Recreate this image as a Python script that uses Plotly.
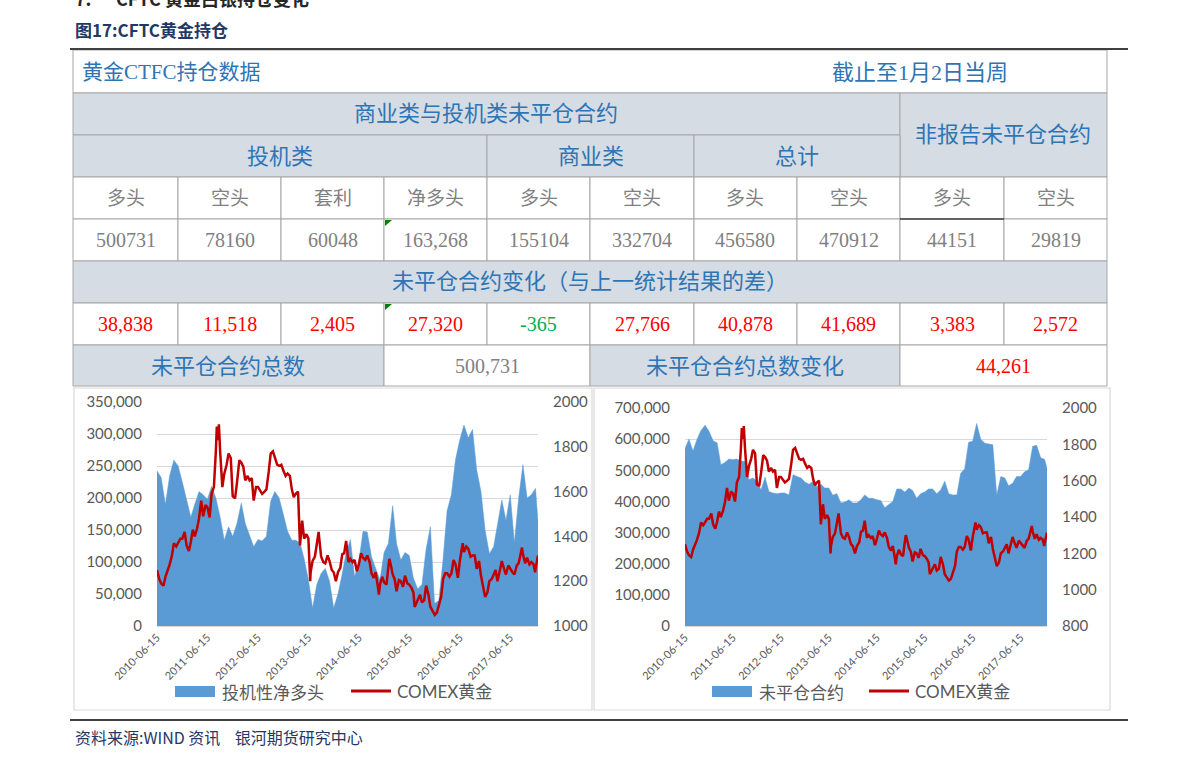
import plotly.graph_objects as go

W, H = 1191, 766

# ---- chart data (monthly readings, last point = 2018-01-02) ----
dates = [f"{2010 + (5 + i) // 12}-{(5 + i) % 12 + 1:02d}-15" for i in range(91)] + ["2018-01-02"]

net_long = [242000, 232000, 190000, 235000, 259000, 250000, 225000, 197000, 170000, 190000,
            210000, 205000, 198000, 218000, 200000, 170000, 134000, 155000, 140000, 160000,
            192000, 160000, 140000, 124000, 135000, 133000, 140000, 195000, 210000, 200000,
            175000, 148000, 134000, 134000, 130000, 105000, 72000, 28000, 65000, 82000,
            90000, 70000, 28000, 50000, 82000, 115000, 135000, 77000, 100000, 148000,
            147000, 108000, 90000, 72000, 115000, 129000, 188000, 129000, 103000, 115000,
            110000, 75000, 58000, 65000, 120000, 155000, 35000, 40000, 105000, 180000,
            205000, 260000, 291000, 314000, 294000, 307000, 244000, 210000, 150000, 113000,
            124000, 160000, 197000, 165000, 205000, 130000, 200000, 252000, 200000, 205000,
            215000, 163000]

open_interest = [570000, 600000, 562000, 600000, 628000, 645000, 625000, 595000, 588000, 518000,
                 525000, 536000, 534000, 536000, 530000, 528000, 470000, 475000, 465000, 437000,
                 478000, 432000, 427000, 425000, 427000, 427000, 421000, 486000, 480000, 475000,
                 462000, 455000, 464000, 448000, 455000, 443000, 443000, 420000, 425000, 395000,
                 398000, 405000, 395000, 395000, 405000, 421000, 410000, 410000, 405000, 403000,
                 380000, 389000, 400000, 440000, 440000, 430000, 443000, 435000, 410000, 425000,
                 430000, 440000, 440000, 425000, 437000, 465000, 425000, 421000, 421000, 490000,
                 505000, 590000, 593000, 650000, 600000, 587000, 585000, 582000, 420000, 480000,
                 475000, 450000, 458000, 480000, 480000, 495000, 502000, 577000, 580000, 540000,
                 535000, 505000]

# COMEX gold, read twice a month plus the visible turning points
gold_points = [
    ("2010-06-15", 1250), ("2010-07-01", 1210), ("2010-07-15", 1190), ("2010-08-01", 1180),
    ("2010-08-15", 1220), ("2010-09-01", 1250), ("2010-09-15", 1275), ("2010-10-01", 1315),
    ("2010-10-15", 1370), ("2010-11-01", 1355), ("2010-11-15", 1370), ("2010-12-01", 1390),
    ("2010-12-15", 1390), ("2011-01-01", 1420), ("2011-01-15", 1360), ("2011-02-01", 1335),
    ("2011-02-15", 1375), ("2011-03-01", 1430), ("2011-03-15", 1400), ("2011-04-01", 1435),
    ("2011-04-15", 1480), ("2011-05-01", 1560), ("2011-05-15", 1490), ("2011-06-01", 1540),
    ("2011-06-15", 1530), ("2011-07-01", 1485), ("2011-07-15", 1590), ("2011-08-01", 1620),
    ("2011-08-15", 1780), ("2011-08-22", 1890), ("2011-09-01", 1830), ("2011-09-06", 1900),
    ("2011-09-15", 1780), ("2011-09-26", 1620), ("2011-10-01", 1620), ("2011-10-15", 1680),
    ("2011-11-01", 1720), ("2011-11-15", 1770), ("2011-12-01", 1750), ("2011-12-15", 1580),
    ("2012-01-01", 1570), ("2012-01-15", 1640), ("2012-02-01", 1740), ("2012-02-15", 1730),
    ("2012-03-01", 1710), ("2012-03-15", 1650), ("2012-04-01", 1670), ("2012-04-15", 1650),
    ("2012-05-01", 1660), ("2012-05-15", 1560), ("2012-06-01", 1620), ("2012-06-15", 1620),
    ("2012-07-01", 1600), ("2012-07-15", 1590), ("2012-08-01", 1600), ("2012-08-15", 1610),
    ("2012-09-01", 1690), ("2012-09-15", 1770), ("2012-10-01", 1780), ("2012-10-15", 1750),
    ("2012-11-01", 1720), ("2012-11-15", 1715), ("2012-12-01", 1720), ("2012-12-15", 1695),
    ("2013-01-01", 1670), ("2013-01-15", 1680), ("2013-02-01", 1670), ("2013-02-15", 1610),
    ("2013-03-01", 1575), ("2013-03-15", 1590), ("2013-04-01", 1600), ("2013-04-15", 1360),
    ("2013-05-01", 1470), ("2013-05-15", 1390), ("2013-06-01", 1410), ("2013-06-15", 1390),
    ("2013-06-28", 1200), ("2013-07-01", 1240), ("2013-07-15", 1290), ("2013-08-01", 1310),
    ("2013-08-15", 1370), ("2013-08-28", 1420), ("2013-09-01", 1395), ("2013-09-15", 1310),
    ("2013-10-01", 1285), ("2013-10-15", 1280), ("2013-11-01", 1315), ("2013-11-15", 1290),
    ("2013-12-01", 1250), ("2013-12-15", 1240), ("2013-12-31", 1200), ("2014-01-15", 1240),
    ("2014-02-01", 1260), ("2014-02-15", 1320), ("2014-03-01", 1325), ("2014-03-15", 1380),
    ("2014-04-01", 1285), ("2014-04-15", 1300), ("2014-05-01", 1285), ("2014-05-15", 1295),
    ("2014-06-01", 1245), ("2014-06-15", 1275), ("2014-07-01", 1325), ("2014-07-15", 1305),
    ("2014-08-01", 1295), ("2014-08-15", 1315), ("2014-09-01", 1285), ("2014-09-15", 1235),
    ("2014-10-01", 1215), ("2014-10-15", 1240), ("2014-11-01", 1170), ("2014-11-07", 1140),
    ("2014-11-15", 1185), ("2014-12-01", 1220), ("2014-12-15", 1195), ("2015-01-01", 1185),
    ("2015-01-15", 1265), ("2015-01-22", 1300), ("2015-02-01", 1275), ("2015-02-15", 1230),
    ("2015-03-01", 1210), ("2015-03-15", 1155), ("2015-04-01", 1205), ("2015-04-15", 1200),
    ("2015-05-01", 1175), ("2015-05-15", 1225), ("2015-06-01", 1190), ("2015-06-15", 1185),
    ("2015-07-01", 1170), ("2015-07-15", 1150), ("2015-07-24", 1085), ("2015-08-01", 1095),
    ("2015-08-15", 1115), ("2015-09-01", 1140), ("2015-09-15", 1105), ("2015-10-01", 1115),
    ("2015-10-15", 1180), ("2015-11-01", 1140), ("2015-11-15", 1085), ("2015-12-01", 1065),
    ("2015-12-17", 1050), ("2016-01-01", 1060), ("2016-01-15", 1090), ("2016-02-01", 1130),
    ("2016-02-15", 1210), ("2016-03-01", 1235), ("2016-03-15", 1235), ("2016-04-01", 1220),
    ("2016-04-15", 1235), ("2016-05-01", 1295), ("2016-05-15", 1275), ("2016-06-01", 1215),
    ("2016-06-15", 1290), ("2016-07-01", 1340), ("2016-07-06", 1370), ("2016-07-15", 1330),
    ("2016-08-01", 1355), ("2016-08-15", 1345), ("2016-09-01", 1310), ("2016-09-15", 1315),
    ("2016-10-01", 1315), ("2016-10-15", 1255), ("2016-11-01", 1290), ("2016-11-15", 1225),
    ("2016-12-01", 1170), ("2016-12-15", 1130), ("2017-01-01", 1150), ("2017-01-15", 1200),
    ("2017-02-01", 1210), ("2017-02-15", 1235), ("2017-03-01", 1250), ("2017-03-15", 1200),
    ("2017-04-01", 1250), ("2017-04-15", 1290), ("2017-05-01", 1255), ("2017-05-15", 1230),
    ("2017-06-01", 1270), ("2017-06-15", 1255), ("2017-07-01", 1240), ("2017-07-15", 1230),
    ("2017-08-01", 1270), ("2017-08-15", 1280), ("2017-09-01", 1330), ("2017-09-08", 1350),
    ("2017-09-15", 1320), ("2017-10-01", 1280), ("2017-10-15", 1305), ("2017-11-01", 1275),
    ("2017-11-15", 1285), ("2017-12-01", 1275), ("2017-12-12", 1240), ("2017-12-15", 1255),
    ("2018-01-02", 1315),
]
gold_dates = [d for d, _ in gold_points]
gold = [v for _, v in gold_points]

x_ticks = ["2010-06-15", "2011-06-15", "2012-06-15", "2013-06-15",
           "2014-06-15", "2015-06-15", "2016-06-15", "2017-06-15"]

# ---- table data ----
group_headers = ["投机类", "商业类", "总计"]
sub_headers = ["多头", "空头", "套利", "净多头", "多头", "空头", "多头", "空头", "多头", "空头"]
positions = ["500731", "78160", "60048", "163,268", "155104", "332704", "456580", "470912", "44151", "29819"]
changes = [38838, 11518, 2405, 27320, -365, 27766, 40878, 41689, 3383, 2572]
total_oi = "500,731"
total_oi_change = "44,261"

BLUE = "#5B9BD5"
RED = "#C00000"
GRID = "#D9D9D9"
TICK = "#595959"
HDR = "#D6DCE4"
HDR_TXT = "#2E75B6"
BORDER = "#A6A6A6"
CELL_TXT = "#808080"
SERIF = "Liberation Serif, Noto Sans CJK SC"
SANS = "Lato, Noto Sans CJK SC"
CJK = "Noto Sans CJK SC"


def fx(p):
    return p / W


def fy(p):
    return 1 - p / H


shapes = []
annotations = []


def cell(x0, x1, y0, y1, fill="white"):
    shapes.append(dict(type="rect", xref="paper", yref="paper",
                       x0=fx(x0), x1=fx(x1), y0=fy(y1), y1=fy(y0),
                       fillcolor=fill, line=dict(color=BORDER, width=1), layer="below"))


def line(x0, y0, x1, y1, color, width):
    shapes.append(dict(type="line", xref="paper", yref="paper",
                       x0=fx(x0), x1=fx(x1), y0=fy(y0), y1=fy(y1),
                       line=dict(color=color, width=width)))


def text(x, y, s, color, size, family=SERIF, xanchor="center"):
    annotations.append(dict(x=fx(x), y=fy(y), xref="paper", yref="paper", text=s,
                            showarrow=False, xanchor=xanchor, yanchor="middle",
                            font=dict(family=family, size=size, color=color)))


cols = [73, 178, 281, 384, 487, 590, 694, 797, 900, 1004, 1107]

# page headings (first one is cut by the top edge, as in the source page)
text(73, -2, "<b>7.      CFTC 黄金白银持仓变化</b>", "#262626", 18, CJK, "left")
text(73, 29, "<b>图17:CFTC黄金持仓</b>", "#1F3864", 17, CJK, "left")
line(70, 49, 1128, 49, "#404040", 2)

# title row
cell(73, 1107, 50, 93)
text(80, 72, "黄金CTFC持仓数据", HDR_TXT, 21, xanchor="left")
text(920, 72, "截止至1月2日当周", HDR_TXT, 22)

# header rows
cell(73, 900, 93, 135, HDR)
text(486, 114, "商业类与投机类未平仓合约", HDR_TXT, 22)
cell(900, 1107, 93, 177, HDR)
text(1003, 135, "非报告未平仓合约", HDR_TXT, 22)
for (a, b), name in zip([(73, 487), (487, 694), (694, 900)], group_headers):
    cell(a, b, 135, 177, HDR)
    text((a + b) / 2, 156, name, HDR_TXT, 22)

for i in range(10):
    a, b = cols[i], cols[i + 1]
    cell(a, b, 177, 219)
    text((a + b) / 2, 198, sub_headers[i], CELL_TXT, 19)
    cell(a, b, 219, 261)
    text((a + b) / 2, 240, positions[i], CELL_TXT, 20)
line(900, 219, 1004, 219, "#404040", 1.5)

cell(73, 1107, 261, 303, HDR)
text(590, 282, "未平仓合约变化（与上一统计结果的差）", HDR_TXT, 22)
for i in range(10):
    a, b = cols[i], cols[i + 1]
    cell(a, b, 303, 345)
    v = changes[i]
    text((a + b) / 2, 324, f"{v:,}", "#FF0000" if v >= 0 else "#00B050", 20)

cell(73, 384, 345, 386, HDR)
text(228, 366, "未平仓合约总数", HDR_TXT, 22)
cell(384, 590, 345, 386)
text(487, 366, total_oi, CELL_TXT, 20)
cell(590, 900, 345, 386, HDR)
text(745, 366, "未平仓合约总数变化", HDR_TXT, 22)
cell(900, 1107, 345, 386)
text(1003, 366, total_oi_change, "#FF0000", 20)

# little green comment markers
for ty in (219, 303):
    shapes.append(dict(type="path", xref="paper", yref="paper",
                       path=f"M {fx(385)},{fy(ty + 1)} L {fx(392)},{fy(ty + 1)} L {fx(385)},{fy(ty + 7)} Z",
                       fillcolor="#008000", line=dict(width=0)))

# chart panels
for a, b in [(74, 592), (594, 1110)]:
    shapes.append(dict(type="rect", xref="paper", yref="paper", x0=fx(a), x1=fx(b),
                       y0=fy(710), y1=fy(388), line=dict(color=GRID, width=1.2), layer="below"))

# legends
for bx, lx, label in [(175, 351, "投机性净多头"), (712, 869, "未平仓合约")]:
    shapes.append(dict(type="rect", xref="paper", yref="paper", x0=fx(bx), x1=fx(bx + 40),
                       y0=fy(697), y1=fy(686), fillcolor=BLUE, line=dict(width=0)))
    text(bx + 45, 691, label, TICK, 17, CJK, "left")
    line(lx, 691, lx + 40, 691, RED, 3)
    text(lx + 44, 691, "COMEX黄金", TICK, 17, SANS, "left")

# footer
line(70, 720, 1128, 720, "#404040", 2)
text(73, 737, "资料来源:WIND 资讯    银河期货研究中心", "#1F3864", 16, CJK, "left")

fig = go.Figure()
fig.add_trace(go.Scatter(x=dates, y=net_long, mode="lines", fill="tozeroy",
                         line=dict(color=BLUE, width=0.5), fillcolor=BLUE,
                         name="投机性净多头", xaxis="x", yaxis="y"))
fig.add_trace(go.Scatter(x=gold_dates, y=gold, mode="lines", line=dict(color=RED, width=2.5),
                         name="COMEX黄金", xaxis="x", yaxis="y2"))
fig.add_trace(go.Scatter(x=dates, y=open_interest, mode="lines", fill="tozeroy",
                         line=dict(color=BLUE, width=0.5), fillcolor=BLUE,
                         name="未平仓合约", xaxis="x2", yaxis="y3"))
fig.add_trace(go.Scatter(x=gold_dates, y=gold, mode="lines", line=dict(color=RED, width=2.5),
                         name="COMEX黄金", xaxis="x2", yaxis="y4"))

xcommon = dict(type="date", range=[dates[0], dates[-1]], tickvals=x_ticks, ticktext=x_ticks,
               tickangle=-45, tickfont=dict(family=SANS, size=11, color=TICK),
               showgrid=False, showline=True, linecolor=GRID, ticks="", zeroline=False,
               automargin=False)
ytick = dict(family=SANS, size=15, color=TICK)

fig.update_layout(
    width=W, height=H, margin=dict(l=0, r=0, t=0, b=0, pad=0, autoexpand=False),
    paper_bgcolor="white", plot_bgcolor="white", showlegend=False,
    xaxis=dict(domain=[fx(157), fx(538)], anchor="y", **xcommon),
    yaxis=dict(domain=[fy(626), fy(402)], anchor="x", range=[0, 350000], dtick=50000,
               tickformat=",d", gridcolor=GRID, zeroline=False, tickfont=ytick,
               ticklabelstandoff=14, automargin=False),
    yaxis2=dict(overlaying="y", side="right", anchor="x", range=[1000, 2000], dtick=200,
                showgrid=False, zeroline=False, tickfont=ytick, ticklabelstandoff=14,
                automargin=False),
    xaxis2=dict(domain=[fx(685), fx(1047)], anchor="y3", **xcommon),
    yaxis3=dict(domain=[fy(626), fy(408)], anchor="x2", range=[0, 700000], dtick=100000,
                tickformat=",d", gridcolor=GRID, zeroline=False, tickfont=ytick,
                ticklabelstandoff=14, automargin=False),
    yaxis4=dict(overlaying="y3", side="right", anchor="x2", range=[800, 2000], dtick=200,
                showgrid=False, zeroline=False, tickfont=ytick, ticklabelstandoff=14,
                automargin=False),
    shapes=shapes, annotations=annotations,
)

fig.write_html("out.html", config={"displayModeBar": False},
               post_script="document.body.style.margin='0';")
